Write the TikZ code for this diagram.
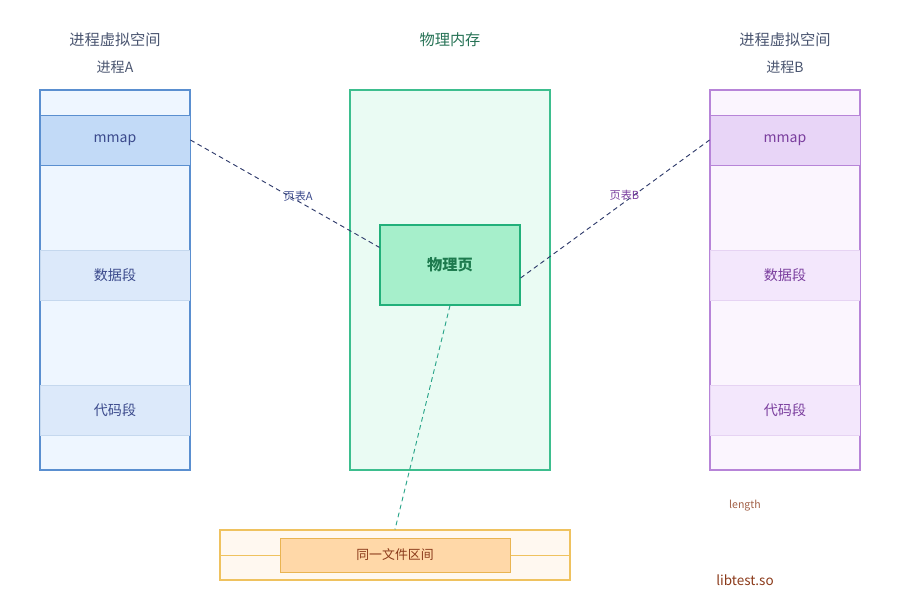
\documentclass[tikz,border=0pt]{standalone}
\usepackage{fontspec}
\setmainfont{Noto Sans CJK SC}
\usepackage{tikz}
\usetikzlibrary{positioning,calc}

\definecolor{blueline}{HTML}{5A8FD0}
\definecolor{bluefill}{HTML}{EEF6FF}
\definecolor{bluemmap}{HTML}{C2DAF7}
\definecolor{blueseg}{HTML}{DCE9FA}
\definecolor{bluesegline}{HTML}{C5D8EE}
\definecolor{bluetext}{HTML}{3B4A8C}
\definecolor{greenline}{HTML}{3DBE8E}
\definecolor{greenfill}{HTML}{EAFBF3}
\definecolor{pagefill}{HTML}{A6EFCB}
\definecolor{pageline}{HTML}{22B07A}
\definecolor{pagetext}{HTML}{1D7A4E}
\definecolor{purpleline}{HTML}{B784D8}
\definecolor{purplefill}{HTML}{FBF5FE}
\definecolor{purplemmap}{HTML}{E8D5F7}
\definecolor{purpleseg}{HTML}{F3E7FC}
\definecolor{purplesegline}{HTML}{E6D3F3}
\definecolor{purpletext}{HTML}{7A3E9E}
\definecolor{fileline}{HTML}{EFC25F}
\definecolor{filefill}{HTML}{FFF8F0}
\definecolor{rangefill}{HTML}{FFD8A8}
\definecolor{rangeline}{HTML}{E9B452}
\definecolor{filetext}{HTML}{8B3A1A}
\definecolor{titletext}{HTML}{4A5570}
\definecolor{linkdark}{HTML}{2F3B6B}
\definecolor{linkteal}{HTML}{2AA58A}

\tikzset{
  column/.style={rectangle, line width=1pt, minimum width=45mm, minimum height=114mm, inner sep=0pt},
  band/.style={rectangle, line width=0.8pt, minimum width=45mm, minimum height=15mm, inner sep=0pt,
               font=\fontsize{12}{14}\selectfont},
  title/.style={font=\fontsize{13}{15}\selectfont, text=titletext},
  subtitle/.style={font=\fontsize{12}{14}\selectfont, text=titletext},
  link/.style={line width=0.8pt, dash pattern=on 4pt off 3pt},
  linklabel/.style={font=\fontsize{9.5}{11}\selectfont}
}

\begin{document}
\begin{tikzpicture}[x=0.3mm, y=-0.3mm]
    \useasboundingbox (0,0) rectangle (900,600);

    %Process A
    \node[title] (titleA) at (115,40) {进程虚拟空间};
    \node[subtitle] (procA) at (115,67) {进程A};
    \begin{scope}[every node/.style={text=bluetext}]
      \node[column, draw=blueline, fill=bluefill] (spaceA) at (115,280) {};
      \node[band, draw=blueline, fill=bluemmap] (mmapA) at (115,140) {mmap};
      \node[band, draw=bluesegline, fill=blueseg] (dataA) at (115,275) {数据段};
      \node[band, draw=bluesegline, fill=blueseg] (codeA) at (115,410) {代码段};
    \end{scope}
    \draw[blueline, line width=1pt] (spaceA.north west) rectangle (spaceA.south east);

    %Physical memory
    \node[title, text=pagetext!80!titletext] (titleM) at (450,40) {物理内存};
    \node[column, draw=greenline, fill=greenfill, minimum width=60mm] (memory) at (450,280) {};
    \node[rectangle, draw=pageline, fill=pagefill, line width=1pt, minimum width=42mm,
          minimum height=24mm, text=pagetext, font=\fontsize{13}{15}\selectfont\bfseries] (page) at (450,265) {物理页};

    %Process B
    \node[title] (titleB) at (785,40) {进程虚拟空间};
    \node[subtitle] (procB) at (785,67) {进程B};
    \begin{scope}[every node/.style={text=purpletext}]
      \node[column, draw=purpleline, fill=purplefill] (spaceB) at (785,280) {};
      \node[band, draw=purpleline, fill=purplemmap] (mmapB) at (785,140) {mmap};
      \node[band, draw=purplesegline, fill=purpleseg] (dataB) at (785,275) {数据段};
      \node[band, draw=purplesegline, fill=purpleseg] (codeB) at (785,410) {代码段};
    \end{scope}
    \draw[purpleline, line width=1pt] (spaceB.north west) rectangle (spaceB.south east);

    %File
    \node[rectangle, draw=fileline, fill=filefill, line width=1pt, minimum width=105mm,
          minimum height=15mm] (file) at (395,555) {};
    \draw[fileline, line width=0.8pt] (file.west) -- (file.east);
    \node[rectangle, draw=rangeline, fill=rangefill, line width=0.8pt, minimum width=69mm,
          minimum height=10.2mm, text=filetext, font=\fontsize{11}{13}\selectfont] (range) at (395,555) {同一文件区间};
    \node[font=\fontsize{9}{11}\selectfont, text=filetext!80] (length) at (745,506) {length};
    \node[font=\fontsize{11.5}{13}\selectfont, text=filetext] (lib) at (745,580) {libtest.so};

    %Page tables
    \draw[link, linkdark] (mmapA.east) -- ($(page.north west)+(0,23)$)
        node[linklabel, text=bluetext, pos=0.57, yshift=1.5mm] (tableA) {页表A};
    \draw[link, linkdark] ($(page.east)+(0,13)$) -- (mmapB.west)
        node[linklabel, text=purpletext, pos=0.55, yshift=2mm] (tableB) {页表B};
    \draw[link, linkteal] (page.south) -- (file.north);
\end{tikzpicture}
\end{document}
